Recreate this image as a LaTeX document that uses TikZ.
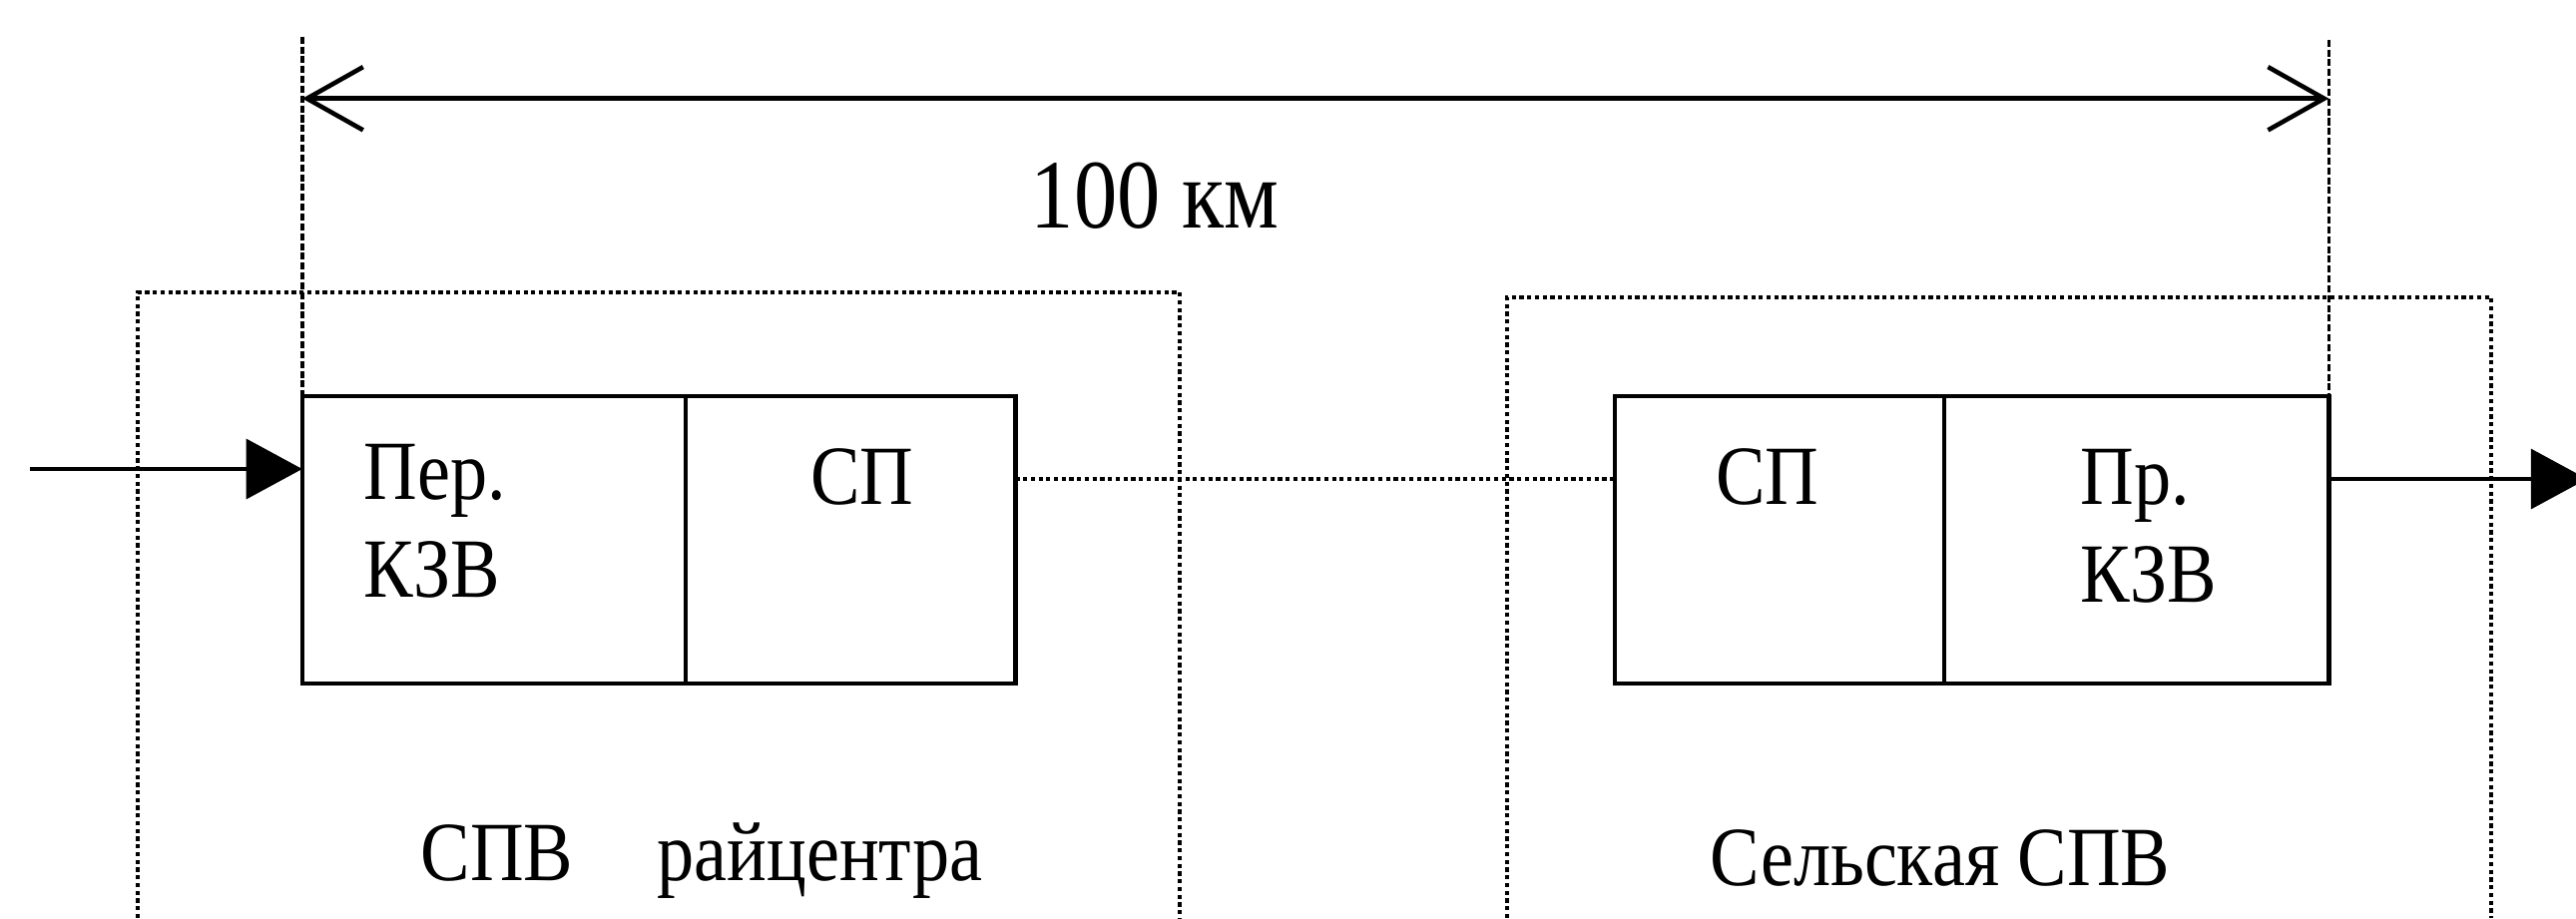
\documentclass[tikz,border=0pt]{standalone}
\usepackage{fontspec}
\setmainfont[FakeStretch=0.88]{Liberation Serif}
\usepackage{tikz}
\usetikzlibrary{arrows.meta, positioning, calc}

\begin{document}
\begin{tikzpicture}[
    x=0.01cm, y=-0.01cm,
    cell/.style={rectangle, draw, line width=1.3pt, minimum height=2.88cm, inner sep=0pt, outer sep=0pt},
    lbl/.style={font=\fontsize{24}{27.6}\selectfont, inner sep=0pt},
    frame/.style={line width=1.1pt, dash pattern=on 1.2pt off 1pt},
    extline/.style={line width=1pt, dash pattern=on 2pt off 0.8pt},
    dimline/.style={line width=1.3pt, {Straight Barb[length=16pt, width=18pt]}-{Straight Barb[length=16pt, width=18pt]}},
    sig/.style={line width=1.3pt, -{Triangle[length=16pt, width=17pt]}},
    link/.style={line width=1.1pt, dash pattern=on 1.2pt off 1pt}
]
    \useasboundingbox (0,0) rectangle (2581,920);

    % Rayon centre station
    \draw[frame] (138,920) |- (1182,293) -- (1182,920);
    \node[cell, minimum width=3.84cm] (perkzv) at (495,541) {};
    \node[cell, minimum width=3.30cm, right=0pt of perkzv] (spA) {};
    \node[lbl, align=left, anchor=north west] (perlbl) at (364,445) {Пер.\\КЗВ};
    \node[lbl] (spAlbl) at (864,478) {СП};
    \node[lbl, anchor=base] (rclbl) at (703,882) {СПВ\quad райцентра};

    % Rural station
    \draw[frame] (1510,920) |- (2496,298) -- (2496,920);
    \node[cell, minimum width=3.30cm] (spB) at (1783,541) {};
    \node[cell, minimum width=3.85cm, right=0pt of spB] (prkzv) {};
    \node[lbl] (spBlbl) at (1771,478) {СП};
    \node[lbl, align=left, anchor=north west] (prlbl) at (2084,450) {Пр.\\КЗВ};
    \node[lbl, anchor=base] (vlbl) at (1944,887) {Сельская СПВ};

    % Distance
    \coordinate (topL) at ([yshift=3.6cm]perkzv.north west);
    \coordinate (topR) at ([yshift=3.57cm]prkzv.north east);
    \coordinate (dimL) at ([yshift=2.98cm]perkzv.north west);
    \coordinate (dimR) at ([yshift=2.98cm]prkzv.north east);
    \draw[extline] (topL) -- (perkzv.north west);
    \draw[extline] (topR) -- (prkzv.north east);
    \draw[dimline] (dimL) -- (dimR);
    \node[font=\fontsize{28}{32}\selectfont, inner sep=0pt] (dist) at (1157,196) {100 км};

    % Signal path
    \coordinate (in) at (30,470);
    \coordinate (out) at (2592,480);
    \draw[sig] (in) -- (in -| perkzv.west);
    \draw[link] ([yshift=0.61cm]spA.east) -- ([yshift=0.61cm]spB.west);
    \draw[sig] (out -| prkzv.east) -- (out);

\end{tikzpicture}
\end{document}
